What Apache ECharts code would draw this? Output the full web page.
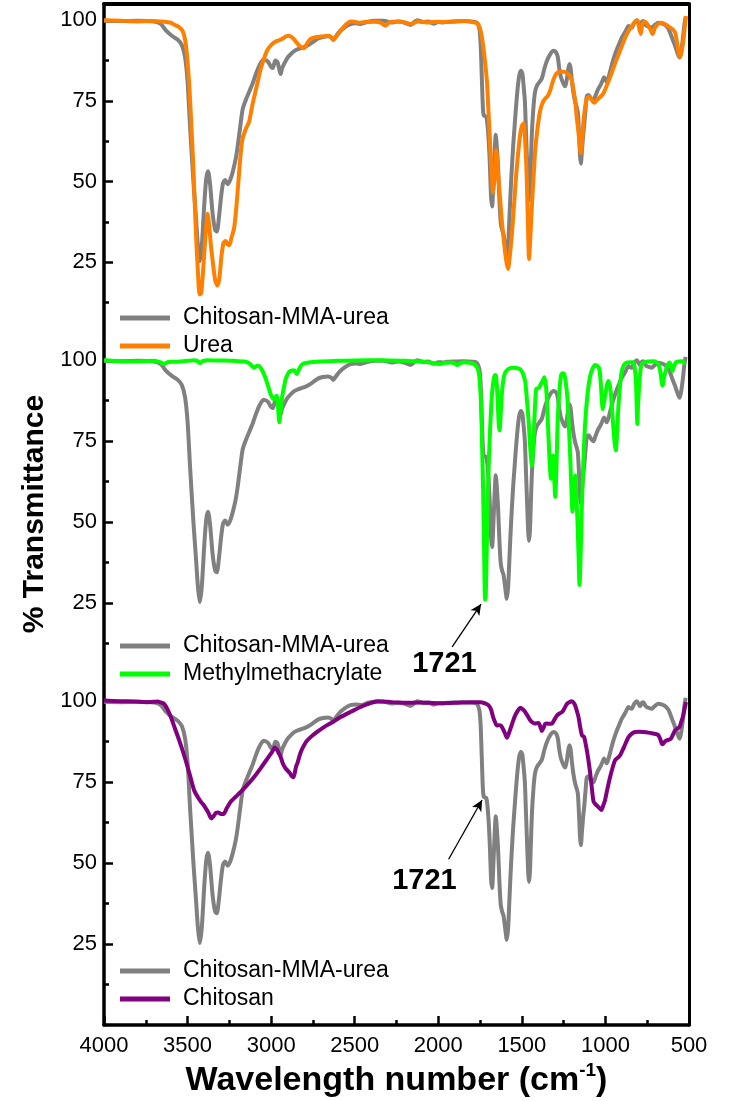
<!DOCTYPE html>
<html>
<head>
<meta charset="utf-8">
<title>FTIR spectra</title>
<script src="https://cdn.jsdelivr.net/npm/echarts@6/dist/echarts.min.js"></script>
<style>
html, body { margin: 0; padding: 0; background: #fff; }
#ftir-chart { width: 738px; height: 1101px; }
</style>
</head>
<body>
<div id="ftir-chart"></div>
<script>
// spectra: [wavenumber (cm-1), % transmittance]
const chitosanMmaUrea = [
  [4000, 99.8], [3900, 99.7], [3800, 99.8], [3700, 99.6], [3660, 98.8], [3630, 96.8], [3590, 95], [3560, 94],
  [3535, 92.4], [3515, 88.5], [3500, 81], [3485, 67], [3465, 50], [3450, 39], [3438, 30], [3427, 25.3],
  [3415, 30], [3400, 43], [3388, 51], [3377, 53.2], [3365, 49], [3350, 40], [3335, 35], [3325, 34.5],
  [3312, 39], [3300, 45], [3288, 49.5], [3275, 50.5], [3260, 49.2], [3245, 50.5], [3230, 53], [3212, 57],
  [3200, 61], [3185, 67], [3170, 72.5], [3150, 75.5], [3130, 78], [3110, 80.5], [3090, 83.5], [3070, 86],
  [3045, 87.8], [3020, 87.2], [3000, 85.5], [2990, 85.2], [2975, 87.5], [2962, 87], [2950, 84.5], [2943, 83.3],
  [2935, 85], [2920, 86.7], [2900, 88.5], [2880, 89.6], [2860, 90.5], [2840, 91], [2810, 91.5], [2780, 92.2],
  [2750, 93.2], [2720, 94.3], [2690, 94.8], [2660, 95], [2640, 94.6], [2628, 93.9], [2615, 94.8], [2590, 96.5],
  [2560, 97.8], [2525, 98.8], [2490, 99], [2465, 98.8], [2420, 99.5], [2380, 99.8], [2326, 99.8], [2280, 99.3],
  [2240, 99.6], [2200, 99.2], [2166, 98.5], [2140, 99.6], [2126, 100], [2090, 99.4], [2060, 99.6], [2029, 98.9],
  [2000, 99.4], [1970, 99.3], [1947, 99.5], [1900, 99.6], [1850, 99.7], [1790, 99.5], [1770, 99.2], [1755, 97.5],
  [1747, 93], [1740, 83], [1734, 74], [1728, 70.5], [1712, 70], [1700, 64], [1692, 56], [1684, 45],
  [1678, 42.3], [1670, 50], [1662, 60], [1656, 64.5], [1650, 61], [1642, 54], [1634, 44], [1626, 37],
  [1618, 35], [1610, 33.8], [1600, 30], [1590, 26.3], [1582, 30], [1575, 38], [1569, 45], [1560, 54],
  [1552, 61], [1545, 66], [1535, 73], [1525, 79], [1515, 83], [1505, 84.3], [1497, 83.5], [1490, 80],
  [1482, 75], [1475, 65], [1468, 55], [1462, 47], [1458, 44.2], [1452, 47], [1446, 56], [1440, 65],
  [1432, 72], [1422, 77.5], [1410, 79.7], [1395, 80.8], [1380, 82], [1365, 85], [1350, 87.4], [1330, 89.5],
  [1310, 90.5], [1298, 90.2], [1286, 88.8], [1276, 85], [1266, 82.3], [1250, 80.2], [1240, 79.5], [1230, 82],
  [1222, 85], [1215, 86.4], [1208, 85], [1200, 81], [1190, 77], [1181, 74.6], [1172, 73], [1165, 71.5],
  [1158, 65], [1152, 58], [1147, 55.5], [1140, 60], [1132, 65], [1127, 67.4], [1118, 73], [1111, 76.5],
  [1100, 76.8], [1090, 76], [1080, 75.3], [1071, 75], [1060, 76.5], [1045, 78.5], [1031, 79.7], [1018, 81.2],
  [1008, 82.3], [1000, 81.5], [992, 80.8], [980, 82.5], [965, 85.5], [952, 87.9], [935, 90.5], [915, 93],
  [902, 94.6], [880, 96.5], [862, 98.2], [852, 97.8], [842, 97.7], [830, 99], [812, 100], [800, 99],
  [792, 98.4], [780, 99.6], [773, 99.7], [763, 98.8], [753, 98.2], [738, 97.9], [723, 97.7], [705, 98.5],
  [683, 99.2], [665, 99], [643, 98.5], [625, 97.5], [613, 96.1], [598, 94], [583, 92], [570, 90],
  [557, 88.4], [548, 90], [537, 94.1], [528, 98.5], [520, 101]
]

const urea = [
  [4000, 100], [3900, 99.8], [3800, 99.6], [3719, 99.7], [3640, 99.5], [3600, 99.2], [3580, 98.6], [3555, 98],
  [3530, 96.7], [3515, 94], [3505, 90], [3490, 80], [3478, 68], [3465, 54], [3450, 34], [3438, 22],
  [3428, 15], [3418, 15.5], [3405, 24], [3392, 34], [3380, 40], [3370, 36], [3360, 30], [3350, 25.5],
  [3335, 19.5], [3322, 17.8], [3310, 20], [3297, 27], [3285, 31], [3272, 31.6], [3260, 30.5], [3250, 30.3],
  [3238, 32.5], [3222, 35.5], [3210, 41], [3198, 48.5], [3185, 57], [3172, 63], [3150, 66.5], [3132, 68.5],
  [3115, 73], [3100, 76.5], [3080, 81], [3062, 85], [3040, 88.5], [3024, 90.6], [3000, 92.3], [2973, 93.4],
  [2950, 93.8], [2930, 94.3], [2910, 95], [2893, 95.2], [2870, 94.5], [2853, 93.4], [2830, 92], [2804, 91.3],
  [2785, 92.8], [2764, 94.2], [2735, 94.7], [2704, 94.9], [2680, 95], [2654, 95.2], [2640, 94.6], [2628, 93.9],
  [2615, 94.6], [2584, 96.7], [2555, 98.5], [2525, 99.6], [2500, 99.5], [2480, 99.2], [2440, 99.4], [2380, 99.5],
  [2345, 99.2], [2316, 98.3], [2290, 99.4], [2240, 99.6], [2200, 99.3], [2166, 98.8], [2120, 99.6], [2060, 99.3],
  [2000, 99.5], [1950, 99.4], [1900, 99.6], [1840, 99.7], [1788, 99.3], [1765, 99], [1752, 97.7], [1740, 95],
  [1728, 90.6], [1718, 86], [1708, 80.3], [1698, 70], [1688, 59.8], [1680, 52], [1672, 46.5], [1665, 50],
  [1658, 56], [1653, 59.8], [1647, 57], [1640, 51], [1633, 46.5], [1620, 38], [1609, 32.2], [1595, 26],
  [1583, 22.9], [1572, 27], [1559, 34.2], [1545, 44], [1533, 52.7], [1520, 60], [1509, 65], [1498, 67.5],
  [1489, 68], [1482, 64], [1473, 54.7], [1465, 40], [1457, 26], [1449, 33], [1438, 44.5], [1428, 53],
  [1420, 59.8], [1405, 67], [1390, 72.1], [1375, 74.5], [1360, 75.7], [1345, 76.5], [1330, 78.3], [1315, 81],
  [1300, 82.9], [1285, 83.8], [1270, 84], [1250, 84], [1230, 83.6], [1215, 82.8], [1201, 81.3], [1190, 78],
  [1181, 75.2], [1172, 70], [1165, 67], [1155, 62], [1147, 58.8], [1139, 63], [1131, 69], [1120, 73.5],
  [1111, 75.7], [1100, 76.2], [1091, 76.2], [1080, 75.2], [1067, 74.4], [1055, 75], [1042, 75.7], [1025, 76.5],
  [1012, 77.3], [990, 80], [972, 82.4], [950, 85.5], [932, 88], [905, 91.5], [882, 94.6], [860, 96.8],
  [842, 98.2], [825, 99.3], [809, 100], [800, 98], [789, 95.7], [780, 98.5], [769, 99.6], [756, 99.2],
  [743, 98.2], [730, 97], [717, 95.7], [705, 97.5], [689, 98.6], [670, 99.2], [653, 99], [635, 98.5],
  [613, 97.7], [595, 97], [583, 96.2], [570, 92.6], [560, 89.5], [554, 88.5], [545, 90], [534, 93.6],
  [525, 98], [518, 101.3]
]

const methylmethacrylate = [
  [4000, 100], [3900, 99.7], [3819, 99.6], [3750, 99.7], [3700, 99.8], [3660, 99.3], [3640, 98.8], [3620, 99.4],
  [3580, 99.5], [3540, 99.6], [3500, 99.8], [3460, 100], [3440, 99.7], [3425, 99.1], [3410, 99.7], [3381, 100],
  [3300, 99.9], [3222, 99.8], [3160, 99.6], [3132, 99.1], [3115, 98.2], [3102, 97.7], [3085, 98.3], [3072, 98.2],
  [3050, 96.5], [3032, 94.2], [3015, 91.5], [3003, 89.5], [2990, 88.2], [2983, 88], [2975, 88.6], [2967, 89],
  [2958, 85], [2951, 80.8], [2944, 84], [2933, 89], [2920, 92.5], [2913, 94.2], [2895, 96.2], [2883, 96.7],
  [2863, 96.9], [2847, 95.7], [2835, 97], [2813, 98.8], [2760, 99.4], [2704, 99.6], [2600, 99.8], [2500, 99.9],
  [2345, 100], [2200, 99.8], [2100, 99.6], [2040, 99.2], [1987, 98.8], [1960, 99.2], [1927, 99.3], [1900, 99],
  [1887, 98.5], [1870, 99], [1848, 99.4], [1810, 99.2], [1788, 98.8], [1770, 98], [1758, 96.2], [1750, 92],
  [1744, 86], [1738, 74], [1732, 60.3], [1726, 42], [1720, 26], [1716, 27], [1710, 42], [1705, 55.2],
  [1697, 70], [1688, 80.8], [1678, 90], [1668, 94.2], [1660, 95.4], [1655, 95.2], [1650, 92.5], [1645, 88],
  [1638, 80], [1633, 78.3], [1627, 83], [1619, 90.1], [1609, 94.5], [1599, 96.2], [1580, 97.3], [1559, 97.7],
  [1535, 97.6], [1509, 97.2], [1495, 96], [1485, 94.5], [1479, 93.1], [1470, 88], [1459, 80.8], [1450, 73],
  [1440, 67.5], [1432, 74], [1426, 80.8], [1420, 87], [1414, 91.1], [1405, 91.3], [1396, 91.6], [1388, 92.5],
  [1380, 93.1], [1372, 94], [1366, 94.7], [1360, 93.5], [1354, 91.1], [1347, 84], [1340, 75.7], [1333, 68],
  [1326, 63.4], [1320, 67], [1314, 70.6], [1307, 64], [1300, 57.8], [1293, 67], [1286, 80.8], [1276, 90],
  [1266, 95.2], [1257, 96], [1247, 95.7], [1237, 93], [1227, 88], [1218, 79], [1211, 70.6], [1204, 61],
  [1197, 53.2], [1190, 58], [1181, 64.4], [1174, 58], [1167, 50.1], [1161, 40], [1155, 30.6], [1148, 41],
  [1141, 55.2], [1131, 70], [1121, 80.8], [1106, 90], [1091, 95.2], [1076, 97.5], [1061, 98.5], [1048, 98.2],
  [1036, 97.2], [1028, 93], [1022, 88], [1016, 84.9], [1007, 87.5], [998, 90.1], [990, 92.5], [982, 93.6],
  [975, 92.5], [968, 90.1], [960, 84.5], [952, 78.8], [944, 74], [938, 72.1], [930, 78], [922, 86],
  [912, 92.5], [902, 96.7], [888, 98.6], [873, 99.3], [853, 99.4], [833, 99.4], [825, 97.8], [817, 93.1],
  [813, 86], [809, 80.3], [805, 86], [797, 93.1], [790, 97], [783, 98.8], [760, 99.5], [740, 99.6],
  [713, 99.7], [695, 99.4], [683, 98.8], [670, 96], [663, 93], [657, 92.1], [650, 94.5], [637, 97.2],
  [627, 98.6], [617, 99.3], [608, 98.5], [599, 96.7], [590, 98], [577, 99.4], [560, 99.6], [543, 99.7],
  [530, 99.3], [518, 99.1]
]

const chitosan = [
  [4000, 100.2], [3900, 100], [3820, 99.9], [3739, 99.7], [3700, 99.8], [3679, 99.9], [3660, 99.6], [3640, 99.2],
  [3620, 97.5], [3600, 95.1], [3575, 91.5], [3550, 87.9], [3525, 84], [3500, 79.7], [3480, 76], [3461, 72.5],
  [3440, 70.5], [3421, 69], [3405, 68], [3391, 66.9], [3375, 65.5], [3365, 64.3], [3357, 63.8], [3345, 64.5],
  [3330, 65.5], [3317, 65.6], [3300, 65.2], [3285, 65.2], [3265, 67], [3241, 69], [3212, 70.5], [3182, 72],
  [3140, 74.3], [3102, 76.6], [3060, 79.5], [3022, 82.3], [2995, 84.3], [2978, 85.7], [2965, 85], [2955, 84],
  [2943, 82.8], [2928, 80.5], [2913, 79.2], [2900, 78.5], [2887, 77.7], [2876, 76.8], [2867, 76.5], [2858, 78],
  [2850, 80], [2843, 80.8], [2828, 83.5], [2813, 85.4], [2790, 87.5], [2764, 88.9], [2725, 90.5], [2684, 92],
  [2630, 93.6], [2584, 95.1], [2520, 96.8], [2465, 98.2], [2410, 99.3], [2365, 100], [2300, 99.8], [2250, 99.6],
  [2200, 99.5], [2100, 99.6], [2000, 99.4], [1900, 99.5], [1800, 99.7], [1748, 99.7], [1720, 99.3], [1699, 98.7],
  [1685, 97.5], [1672, 95.1], [1660, 93.5], [1649, 92.5], [1637, 92.6], [1625, 92.5], [1617, 91.8], [1609, 91],
  [1599, 89.8], [1589, 88.7], [1578, 90], [1565, 92], [1552, 94], [1540, 95.6], [1525, 97], [1509, 98],
  [1495, 97.5], [1479, 96.6], [1465, 95.4], [1450, 94.1], [1435, 93.4], [1420, 93.1], [1410, 93.2], [1400, 93.3],
  [1390, 92.2], [1380, 90.8], [1370, 91.8], [1360, 93], [1350, 93.1], [1335, 93], [1320, 93.1], [1305, 94.3],
  [1290, 95.6], [1275, 96.2], [1260, 96.6], [1245, 97.8], [1230, 99.2], [1215, 99.7], [1201, 100], [1191, 99.6],
  [1181, 98.7], [1171, 97], [1161, 95.1], [1151, 92], [1141, 89.5], [1134, 89.2], [1127, 88.9], [1119, 87],
  [1111, 84.8], [1101, 81.5], [1091, 77.7], [1081, 73], [1071, 69], [1060, 68.2], [1048, 67.6], [1036, 67],
  [1024, 66.4], [1013, 67.8], [1002, 69.5], [988, 73], [972, 76.6], [958, 79.3], [942, 81.8], [927, 82.5],
  [912, 83.3], [900, 84.6], [888, 85.9], [875, 87.5], [862, 88.9], [842, 90], [822, 90.5], [798, 90.6],
  [773, 90.5], [743, 90.3], [713, 90], [695, 89.8], [683, 89.5], [670, 88], [662, 86.8], [657, 86.7],
  [645, 87.5], [633, 87.9], [620, 88.1], [609, 88.4], [595, 89.8], [583, 91], [570, 91.5], [557, 92],
  [547, 93.5], [537, 95.1], [527, 97.5], [518, 99.7]
]

const yMajorTicks = [25, 50, 75, 100]
const yMinorTicks = [12.5, 37.5, 62.5, 87.5]

// 1721 peak callouts: arrow tail, arrow head, label centre
const peakMma = { tail: [1917, 11.5], head: [1744, 24.7], text: [1963, 6.2] }
const peakComposite = { tail: [1938, 51.2], head: [1738, 69.5], text: [2083, 44.5] }

const FONT = '"Liberation Sans", Arial, sans-serif'
const GRAY = '#808080'

const panels = [
  { name: 'Urea', data: urea, color: '#ff8000', top: 4, height: 339, legendTop: 299 },
  { name: 'Methylmethacrylate', data: methylmethacrylate, color: '#00ff00', top: 344, height: 340, legendTop: 627 },
  { name: 'Chitosan', data: chitosan, color: '#800080', top: 685, height: 340, legendTop: 952 }
]

function arrowMark (peak) {
  return {
    silent: true,
    symbol: ['none', 'arrow'],
    symbolSize: [8, 11],
    lineStyle: { color: '#000', width: 1.3, type: 'solid' },
    label: { show: false },
    emphasis: { disabled: true },
    data: [[{ coord: peak.tail }, { coord: peak.head }]]
  }
}

function labelMark (peak) {
  return {
    silent: true,
    symbol: 'circle',
    symbolSize: 1,
    itemStyle: { color: 'rgba(0,0,0,0)' },
    label: {
      show: true,
      position: 'inside',
      formatter: '1721',
      fontSize: 29,
      fontWeight: 'bold',
      color: '#000',
      fontFamily: FONT
    },
    data: [{ coord: peak.text }]
  }
}

const grids = []
const xAxes = []
const yAxes = []
const series = []
const legends = []

panels.forEach((p, i) => {
  grids.push({ left: 104, width: 585, top: p.top, height: p.height })

  const isTop = i === 0
  const isBottom = i === panels.length - 1
  const xAxis = {
    gridIndex: i,
    type: 'value',
    min: 500,
    max: 4000,
    interval: 500,
    inverse: true,
    position: isTop ? 'top' : 'bottom',
    axisLine: { show: isTop || isBottom, onZero: false, lineStyle: { color: '#000', width: 4 } },
    axisTick: { show: false },
    axisLabel: { show: false },
    splitLine: { show: false }
  }
  if (isBottom) {
    xAxis.axisLine.lineStyle.width = 3.5
    xAxis.axisTick = { show: true, inside: true, length: 9, lineStyle: { color: '#000', width: 2.5 } }
    xAxis.minorTick = { show: true, splitNumber: 2, length: 5, lineStyle: { color: '#000', width: 2.5 } }
    xAxis.axisLabel = {
      show: true,
      fontSize: 22,
      color: '#000',
      fontFamily: FONT,
      margin: 10,
      formatter: v => String(v)
    }
    xAxis.name = '{t|Wavelength number (cm}{s|-1}{t|)}'
    xAxis.nameLocation = 'middle'
    xAxis.nameGap = 36
    xAxis.nameTextStyle = {
      rich: {
        t: { fontSize: 34, fontWeight: 'bold', color: '#000', fontFamily: FONT, lineHeight: 40 },
        s: { fontSize: 19, fontWeight: 'bold', color: '#000', fontFamily: FONT, lineHeight: 22, verticalAlign: 'top' }
      }
    }
  }
  xAxes.push(xAxis)

  const mainY = {
    gridIndex: i,
    type: 'value',
    min: 0,
    max: 105,
    position: 'left',
    axisLine: { show: true, onZero: false, lineStyle: { color: '#000', width: 3.5 } },
    axisTick: { show: true, inside: true, length: 9, lineStyle: { color: '#000', width: 2.5 }, customValues: yMajorTicks },
    axisLabel: { fontSize: 22, color: '#000', fontFamily: FONT, margin: 7, customValues: yMajorTicks },
    splitLine: { show: false }
  }
  if (i === 1) {
    mainY.name = '% Transmittance'
    mainY.nameLocation = 'middle'
    mainY.nameGap = 46
    mainY.nameTextStyle = { fontSize: 30, fontWeight: 'bold', color: '#000', fontFamily: FONT }
  }
  yAxes.push(mainY)
  yAxes.push({
    gridIndex: i,
    type: 'value',
    min: 0,
    max: 105,
    position: 'left',
    axisLine: { show: false, onZero: false },
    axisTick: { show: true, inside: true, length: 5, lineStyle: { color: '#000', width: 2.5 }, customValues: yMinorTicks },
    axisLabel: { show: false },
    splitLine: { show: false }
  })
  yAxes.push({
    gridIndex: i,
    type: 'value',
    min: 0,
    max: 105,
    position: 'right',
    axisLine: { show: true, onZero: false, lineStyle: { color: '#000', width: 3 } },
    axisTick: { show: false },
    axisLabel: { show: false },
    splitLine: { show: false }
  })

  const gray = {
    name: 'Chitosan-MMA-urea',
    type: 'line',
    xAxisIndex: i,
    yAxisIndex: i * 3,
    data: chitosanMmaUrea,
    showSymbol: false,
    smooth: 0.25,
    color: GRAY,
    lineStyle: { color: GRAY, width: 4 },
    emphasis: { disabled: true },
    z: 2
  }
  const colored = {
    name: p.name,
    type: 'line',
    xAxisIndex: i,
    yAxisIndex: i * 3,
    data: p.data,
    showSymbol: false,
    smooth: 0.25,
    color: p.color,
    lineStyle: { color: p.color, width: 4 },
    emphasis: { disabled: true },
    z: 3
  }
  if (i === 1) {
    colored.markLine = arrowMark(peakMma)
    colored.markPoint = labelMark(peakMma)
  }
  if (i === 2) {
    gray.markLine = arrowMark(peakComposite)
    gray.markPoint = labelMark(peakComposite)
  }
  series.push(gray, colored)

  legends.push({
    left: 115,
    top: p.legendTop,
    orient: 'vertical',
    icon: 'rect',
    itemWidth: 50,
    itemHeight: 5,
    itemGap: 0,
    selectedMode: false,
    data: ['Chitosan-MMA-urea', p.name],
    textStyle: { fontSize: 23, color: '#000', fontFamily: FONT, lineHeight: 28, padding: [0, 0, 0, 8] }
  })
})

const chart = echarts.init(document.getElementById('ftir-chart'))
chart.setOption({
  animation: false,
  backgroundColor: '#fff',
  grid: grids,
  xAxis: xAxes,
  yAxis: yAxes,
  legend: legends,
  series: series
})
</script>
</body>
</html>
